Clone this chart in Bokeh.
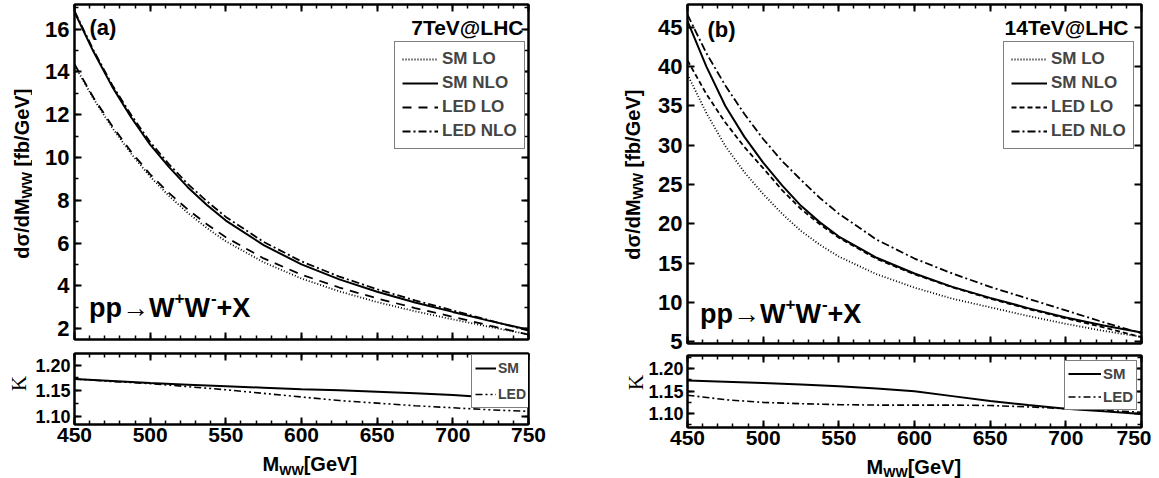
import math
from bokeh.plotting import figure
from bokeh.models import (ColumnDataSource, Range1d, SingleIntervalTicker, LinearAxis,
                          PrintfTickFormatter, Legend, LegendItem, Label, CustomLabelingPolicy)
from bokeh.layouts import row, column
from bokeh.embed import file_html
from bokeh.resources import INLINE

# ---------------- data ----------------
mww = [450, 462.5, 475, 487.5, 500, 512.5, 525, 537.5, 550, 575, 600, 625, 650, 675, 700, 725, 750]
mww_k = [450, 475, 500, 525, 550, 575, 600, 625, 650, 675, 700, 725, 750]

# (a) 7 TeV @ LHC  [fb/GeV]
a_sm_lo   = [14.32, 12.75, 11.38, 10.17, 9.10, 8.20, 7.40, 6.70, 6.08, 5.10, 4.34, 3.74, 3.24, 2.81, 2.43, 2.07, 1.73]
a_sm_nlo  = [16.80, 14.95, 13.30, 11.87, 10.60, 9.55, 8.60, 7.78, 7.05, 5.90, 5.00, 4.30, 3.72, 3.22, 2.78, 2.35, 1.95]
a_led_lo  = [14.36, 12.80, 11.46, 10.26, 9.21, 8.33, 7.56, 6.88, 6.27, 5.28, 4.52, 3.92, 3.41, 2.96, 2.55, 2.13, 1.72]
a_led_nlo = [16.85, 15.02, 13.38, 11.98, 10.72, 9.68, 8.75, 7.95, 7.22, 6.05, 5.14, 4.43, 3.84, 3.32, 2.85, 2.37, 1.91]
a_k_sm    = [1.173, 1.169, 1.165, 1.162, 1.159, 1.156, 1.153, 1.151, 1.148, 1.145, 1.142, 1.137, 1.130]
a_k_led   = [1.173, 1.168, 1.164, 1.158, 1.152, 1.145, 1.138, 1.131, 1.126, 1.121, 1.117, 1.113, 1.110]

# (b) 14 TeV @ LHC  [fb/GeV]
b_sm_lo   = [39.0, 34.1, 29.9, 26.6, 23.8, 21.3, 19.1, 17.35, 15.85, 13.6, 11.9, 10.5, 9.4, 8.3, 7.3, 6.4, 5.64]
b_sm_nlo  = [45.8, 40.0, 35.0, 31.1, 27.8, 24.9, 22.3, 20.2, 18.4, 15.7, 13.7, 12.0, 10.6, 9.3, 8.1, 7.1, 6.2]
b_led_lo  = [40.8, 36.5, 32.9, 29.8, 27.1, 24.3, 21.9, 19.95, 18.25, 15.55, 13.6, 11.95, 10.5, 9.2, 8.0, 6.85, 5.6]
b_led_nlo = [46.6, 41.7, 37.6, 34.0, 30.8, 28.0, 25.6, 23.3, 21.3, 18.0, 15.6, 13.7, 12.0, 10.5, 9.0, 7.5, 6.1]
b_k_sm    = [1.174, 1.171, 1.168, 1.165, 1.161, 1.156, 1.150, 1.139, 1.128, 1.119, 1.111, 1.105, 1.099]
b_k_led   = [1.141, 1.131, 1.125, 1.122, 1.120, 1.119, 1.119, 1.119, 1.118, 1.115, 1.111, 1.107, 1.103]

series_names = ["SM LO", "SM NLO", "LED LO", "LED NLO"]
k_names = ["SM", "LED"]

FONT = "Liberation Sans"
SERIF = "Liberation Serif"

# Arial-bold advance widths (per 1000 em) for placing text pieces
W = {'p': 611, '\u2192': 1000, 'W': 944, '+': 584, '-': 333, 'X': 667, 'M': 833,
     'd': 611, '\u03c3': 620, '/': 278, ' ': 278, '\u039a': 722}


def tw(s, size):
    return sum(W.get(c, 600) for c in s) * size / 1000.0


NO_LABELS = CustomLabelingPolicy(code="return []")


def style_axis(ax, size, labels=True, minor=True, fmt=None, standoff=5):
    ax.axis_line_width = 2
    ax.axis_line_color = "black"
    ax.major_tick_line_width = 2
    ax.minor_tick_line_width = 1.5
    ax.major_tick_in = 7
    ax.major_tick_out = 0
    ax.minor_tick_in = 4 if minor else 0
    ax.minor_tick_out = 0
    ax.axis_label_standoff = 0
    ax.major_label_text_font = FONT
    ax.major_label_text_font_style = "bold"
    ax.major_label_text_color = "black"
    if labels:
        ax.major_label_text_font_size = size
        ax.major_label_standoff = standoff
    else:
        ax.major_label_text_font_size = "1px"
        ax.major_label_standoff = 0
        ax.major_label_policy = NO_LABELS
    ax.axis_label = None
    if fmt is not None:
        ax.formatter = PrintfTickFormatter(format=fmt)


def make_fig(yr, fw, fh, left, right, top, bottom, yint, ymin, xlabels, ylabsize, yfmt, ystand):
    p = figure(x_range=Range1d(450, 750), y_range=Range1d(*yr),
               frame_width=fw, frame_height=fh,
               min_border_left=left, min_border_right=right,
               min_border_top=top, min_border_bottom=bottom,
               toolbar_location=None, output_backend="svg")
    p.grid.visible = False
    p.outline_line_color = "black"
    p.outline_line_width = 2
    p.background_fill_color = "white"
    p.border_fill_color = "white"
    p.xaxis.ticker = SingleIntervalTicker(interval=50, num_minor_ticks=5)
    p.yaxis.ticker = SingleIntervalTicker(interval=yint, num_minor_ticks=ymin)
    style_axis(p.xaxis[0], "21px", labels=xlabels, fmt="%d", standoff=3)
    style_axis(p.yaxis[0], ylabsize, labels=True, minor=ymin > 1, fmt=yfmt, standoff=ystand)
    top_ax = LinearAxis(ticker=SingleIntervalTicker(interval=50, num_minor_ticks=5))
    style_axis(top_ax, "1px", labels=False)
    p.add_layout(top_ax, "above")
    right_ax = LinearAxis(ticker=SingleIntervalTicker(interval=yint, num_minor_ticks=ymin))
    style_axis(right_ax, "1px", labels=False, minor=ymin > 1)
    p.add_layout(right_ax, "right")
    return p


def label_fig(w, h):
    f = figure(width=w, height=h, min_border=0, toolbar_location=None, output_backend="svg",
               x_axis_location=None, y_axis_location=None,
               x_range=Range1d(0, 1), y_range=Range1d(0, 1))
    f.grid.visible = False
    f.outline_line_color = None
    f.background_fill_color = "white"
    f.border_fill_color = "white"
    return f


def lab(p, text, x, y, size, align="left", angle=0.0, font=FONT, style="bold"):
    # (x, y): screen position of the text's vertical centre line (from frame bottom-left)
    p.add_layout(Label(x=x, y=y, x_units="screen", y_units="screen", text=text,
                       text_font=font, text_font_style=style, text_font_size=f"{size}px",
                       text_align=align, text_baseline="middle", angle=angle,
                       text_color="black"))


def main_panel(fig, vals, dashes, leg_loc, leg_gw, tag, energy, tag_x, tag_y, en_dx, en_y, pp_j, pp_y):
    src = ColumnDataSource(dict(m=mww, lo=vals[0], nlo=vals[1], llo=vals[2], lnlo=vals[3]))
    rs = []
    for key, dash, w in zip(["lo", "nlo", "llo", "lnlo"], dashes, [1.8, 2.0, 1.8, 1.8]):
        rs.append(fig.line("m", key, source=src, line_color="black", line_width=w, line_dash=dash))
    items = [LegendItem(label=n, renderers=[r]) for n, r in zip(series_names, rs)]
    leg = Legend(items=items, location=leg_loc, padding=7, spacing=4, margin=0,
                 label_height=20, glyph_height=20, glyph_width=leg_gw, label_standoff=4,
                 label_text_font=FONT, label_text_font_style="bold", label_text_font_size="17px",
                 border_line_color="black", border_line_width=1, background_fill_alpha=1.0)
    fig.add_layout(leg)
    fw = fig.frame_width
    lab(fig, tag, tag_x, tag_y, 22)
    lab(fig, energy, fw - en_dx, en_y, 21, align="right")
    # pp -> W+ W- + X   (pp_j: end of "pp->W")
    big, sup = 27, 17
    j = pp_j
    lab(fig, "pp\u2192W", j, pp_y, big, align="right")
    lab(fig, "+", j, pp_y + 10, sup)
    j2 = j + tw("+", sup)
    lab(fig, "W", j2, pp_y, big)
    j3 = j2 + tw("W", big)
    lab(fig, "-", j3 + 1, pp_y + 10, sup)
    j4 = j3 + tw("-", sup) + 1
    lab(fig, "+X", j4, pp_y, big)


def y_title(f, x, y0):
    a90 = math.pi / 2
    jy = y0 + tw("d\u03c3/dM", 20)
    lab(f, "d\u03c3/dM", x, jy, 20, align="right", angle=a90)
    lab(f, "WW", x + 5, jy, 14, angle=a90)
    lab(f, "[fb/GeV]", x, jy + tw("WW", 14) + tw(" ", 20), 20, angle=a90)


def kappa(f, x, yc):
    lab(f, "\u039a", x, yc - tw("\u039a", 21) / 2.0, 21, align="left", angle=math.pi / 2,
        font=SERIF, style="normal")


def x_title(f, x, y, ysub):
    j = x + tw("M", 20)
    lab(f, "M", j, y, 20, align="right")
    lab(f, "WW", j, ysub, 13)
    lab(f, "[GeV]", j + tw("WW", 13), y, 20)


def k_panel(fig, ksm, kled, led_dash, leg_loc, leg_lh, leg_sp, leg_gw, leg_fs):
    src = ColumnDataSource(dict(m=mww_k, sm=ksm, led=kled))
    r1 = fig.line("m", "sm", source=src, line_color="black", line_width=2)
    r2 = fig.line("m", "led", source=src, line_color="black", line_width=1.6, line_dash=led_dash)
    items = [LegendItem(label=n, renderers=[r]) for n, r in zip(k_names, [r1, r2])]
    leg = Legend(items=items, location=leg_loc, padding=3, spacing=leg_sp, margin=0,
                 label_height=leg_lh, glyph_height=leg_lh, glyph_width=leg_gw, label_standoff=2,
                 label_text_font=FONT, label_text_font_style="bold", label_text_font_size=f"{leg_fs}px",
                 border_line_color="black", border_line_width=1, background_fill_alpha=1.0)
    fig.add_layout(leg)


FW = 454

# ---- column (a): frame x 73..527, main y 2..337, K y 347..418
a_main = make_fig((1.49, 17.15), FW, 335, 41, 72, 0, 10, 2, 2, False, "22px", "%d", 5)
main_panel(a_main, [a_sm_lo, a_sm_nlo, a_led_lo, a_led_nlo],
           ["1 2", "solid", "9 7", "8 3 2 3"], (320, 190), 36,
           "(a)", "7TeV@LHC", 15, 312, 5, 312, 100, 32)
a_k = make_fig((1.0845, 1.2225), FW, 71, 41, 72, 0, 30, 0.05, 2, True, "18px", "%.2f", 4)
k_panel(a_k, a_k_sm, a_k_led, "7 3 2 3 2 3", (397, 16), 20, 6, 21, 14)

yl_a = label_fig(32, 447)
y_title(yl_a, 21, 190)
kappa(yl_a, 18.5, 64)
xt_a = label_fig(599, 24)
x_title(xt_a, 262, 14.5, 8.5)

# ---- column (b): frame x 686..1140, main y 2..341, K y 349..421
b_main = make_fig((4.8, 47.9), FW, 339, 41, 10, 0, 8, 5, 0, False, "22px", "%d", 5)
main_panel(b_main, [b_sm_lo, b_sm_nlo, b_led_lo, b_led_nlo],
           ["1 2", "solid", "5 3", "8 3 2 3"], (316, 194), 36,
           "(b)", "14TeV@LHC", 20, 314, 13, 316, 98, 30)
b_k = make_fig((1.069, 1.2296), FW, 72, 41, 10, 0, 28, 0.05, 2, True, "18px", "%.2f", 4)
k_panel(b_k, b_k_sm, b_k_led, "7 3 2 3", (377, 17), 19, 4, 33, 15)

yl_b = label_fig(45, 447)
y_title(yl_b, 32, 189)
kappa(yl_b, 35.5, 65)
xt_b = label_fig(550, 24)
x_title(xt_b, 266, 12.5, 7.5)

col_a = column(row(yl_a, column(a_main, a_k)), xt_a)
col_b = column(row(yl_b, column(b_main, b_k)), xt_b)
layout = row(col_a, col_b)

open("out.html", "w").write(file_html(layout, INLINE))
